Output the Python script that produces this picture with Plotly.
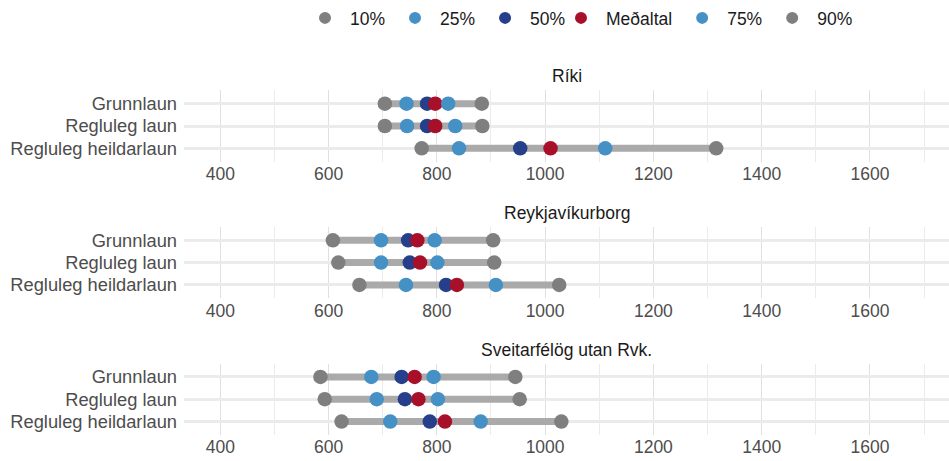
import plotly.graph_objects as go

panels = ["Ríki", "Reykjavíkurborg", "Sveitarfélög utan Rvk."]
categories = ["Grunnlaun", "Regluleg laun", "Regluleg heildarlaun"]

# values per panel (Ríki, Reykjavíkurborg, Sveitarfélög utan Rvk.), each row in category order
p10 = [[704, 704, 772], [608, 618, 657], [585, 593, 624]]
p25 = [[744, 745, 841], [697, 697, 743], [679, 689, 714]]
p50 = [[782, 782, 954], [747, 750, 817], [735, 741, 787]]
medaltal = [[797, 797, 1010], [764, 769, 837], [759, 766, 815]]
p75 = [[821, 834, 1111], [796, 801, 909], [794, 802, 881]]
p90 = [[883, 884, 1316], [904, 906, 1026], [945, 953, 1030]]

series_names = ["10%", "25%", "50%", "Meðaltal", "75%", "90%"]
series_values = [p10, p25, p50, medaltal, p75, p90]
series_colors = ["#7f7f7f", "#4590c5", "#263f8a", "#a8102a", "#4590c5", "#7f7f7f"]
series_legend = ["legend", "legend", "legend", "legend2", "legend2", "legend2"]

W, H = 949, 461
FONT = "Liberation Sans, Arial, sans-serif"
x_left_px = 184
centers = [126.0, 262.6, 399.2]
half = 35.7

fig = go.Figure()
layout_axes = {}
annotations = []
for i, panel in enumerate(panels):
    n = i + 1
    xa = "x" if n == 1 else f"x{n}"
    ya = "y" if n == 1 else f"y{n}"
    # range bars
    lx, ly = [], []
    for j, cat in enumerate(categories):
        lx += [p10[i][j], p90[i][j], None]
        ly += [cat, cat, None]
    fig.add_trace(go.Scatter(x=lx, y=ly, mode="lines", xaxis=xa, yaxis=ya,
                             line=dict(color="#aaaaaa", width=7), showlegend=False,
                             hoverinfo="skip"))
    for name, vals, col, leg in zip(series_names, series_values, series_colors, series_legend):
        fig.add_trace(go.Scatter(x=vals[i], y=categories, mode="markers", name=name,
                                 xaxis=xa, yaxis=ya, legend=leg,
                                 showlegend=(i == 0),
                                 marker=dict(color=col, size=14.5, line=dict(width=0))))
    c = centers[i]
    dom_y = [1 - (c + half) / H, 1 - (c - half) / H]
    layout_axes["xaxis" if n == 1 else f"xaxis{n}"] = dict(
        domain=[x_left_px / W, 1], anchor=ya, range=[333, 1746],
        tick0=400, dtick=200, showgrid=True, gridcolor="#e0e0e0", gridwidth=1,
        minor=dict(dtick=100, tick0=400, showgrid=True, gridcolor="#ebebeb", gridwidth=1),
        zeroline=False, showline=False, ticks="", automargin=False,
        tickfont=dict(family=FONT, size=17.5, color="#4d4d4d"))
    layout_axes["yaxis" if n == 1 else f"yaxis{n}"] = dict(
        domain=dom_y, anchor=xa, type="category",
        categoryorder="array", categoryarray=categories[::-1], range=[-0.6, 2.6],
        showgrid=True, gridcolor="#ebebeb", gridwidth=2.5,
        zeroline=False, showline=False, ticks="", automargin=False,
        ticklabelstandoff=6,
        tickfont=dict(family=FONT, size=18.3, color="#4d4d4d"))
    annotations.append(dict(text=panel, x=(x_left_px + W) / 2 / W, y=1 - (c - half - 14) / H,
                            xref="paper", yref="paper", showarrow=False,
                            xanchor="center", yanchor="middle",
                            font=dict(family=FONT, size=17.5, color="#1a1a1a")))

legend_style = dict(orientation="h", xanchor="left", y=1 - 18 / H, yanchor="middle",
                    font=dict(family=FONT, size=17.5, color="#1a1a1a"),
                    bgcolor="rgba(0,0,0,0)", itemsizing="constant", itemwidth=40,
                    traceorder="normal")

fig.update_layout(
    width=W, height=H, template="none",
    margin=dict(l=0, r=0, t=0, b=0),
    paper_bgcolor="white", plot_bgcolor="white",
    font=dict(family=FONT, size=17, color="#1a1a1a"),
    showlegend=True,
    legend=dict(x=300 / W, **legend_style),
    legend2=dict(x=556 / W, **legend_style),
    annotations=annotations,
    **layout_axes,
)
fig.write_html("out.html", config={"displayModeBar": False},
               post_script="document.body.style.margin='0';")
